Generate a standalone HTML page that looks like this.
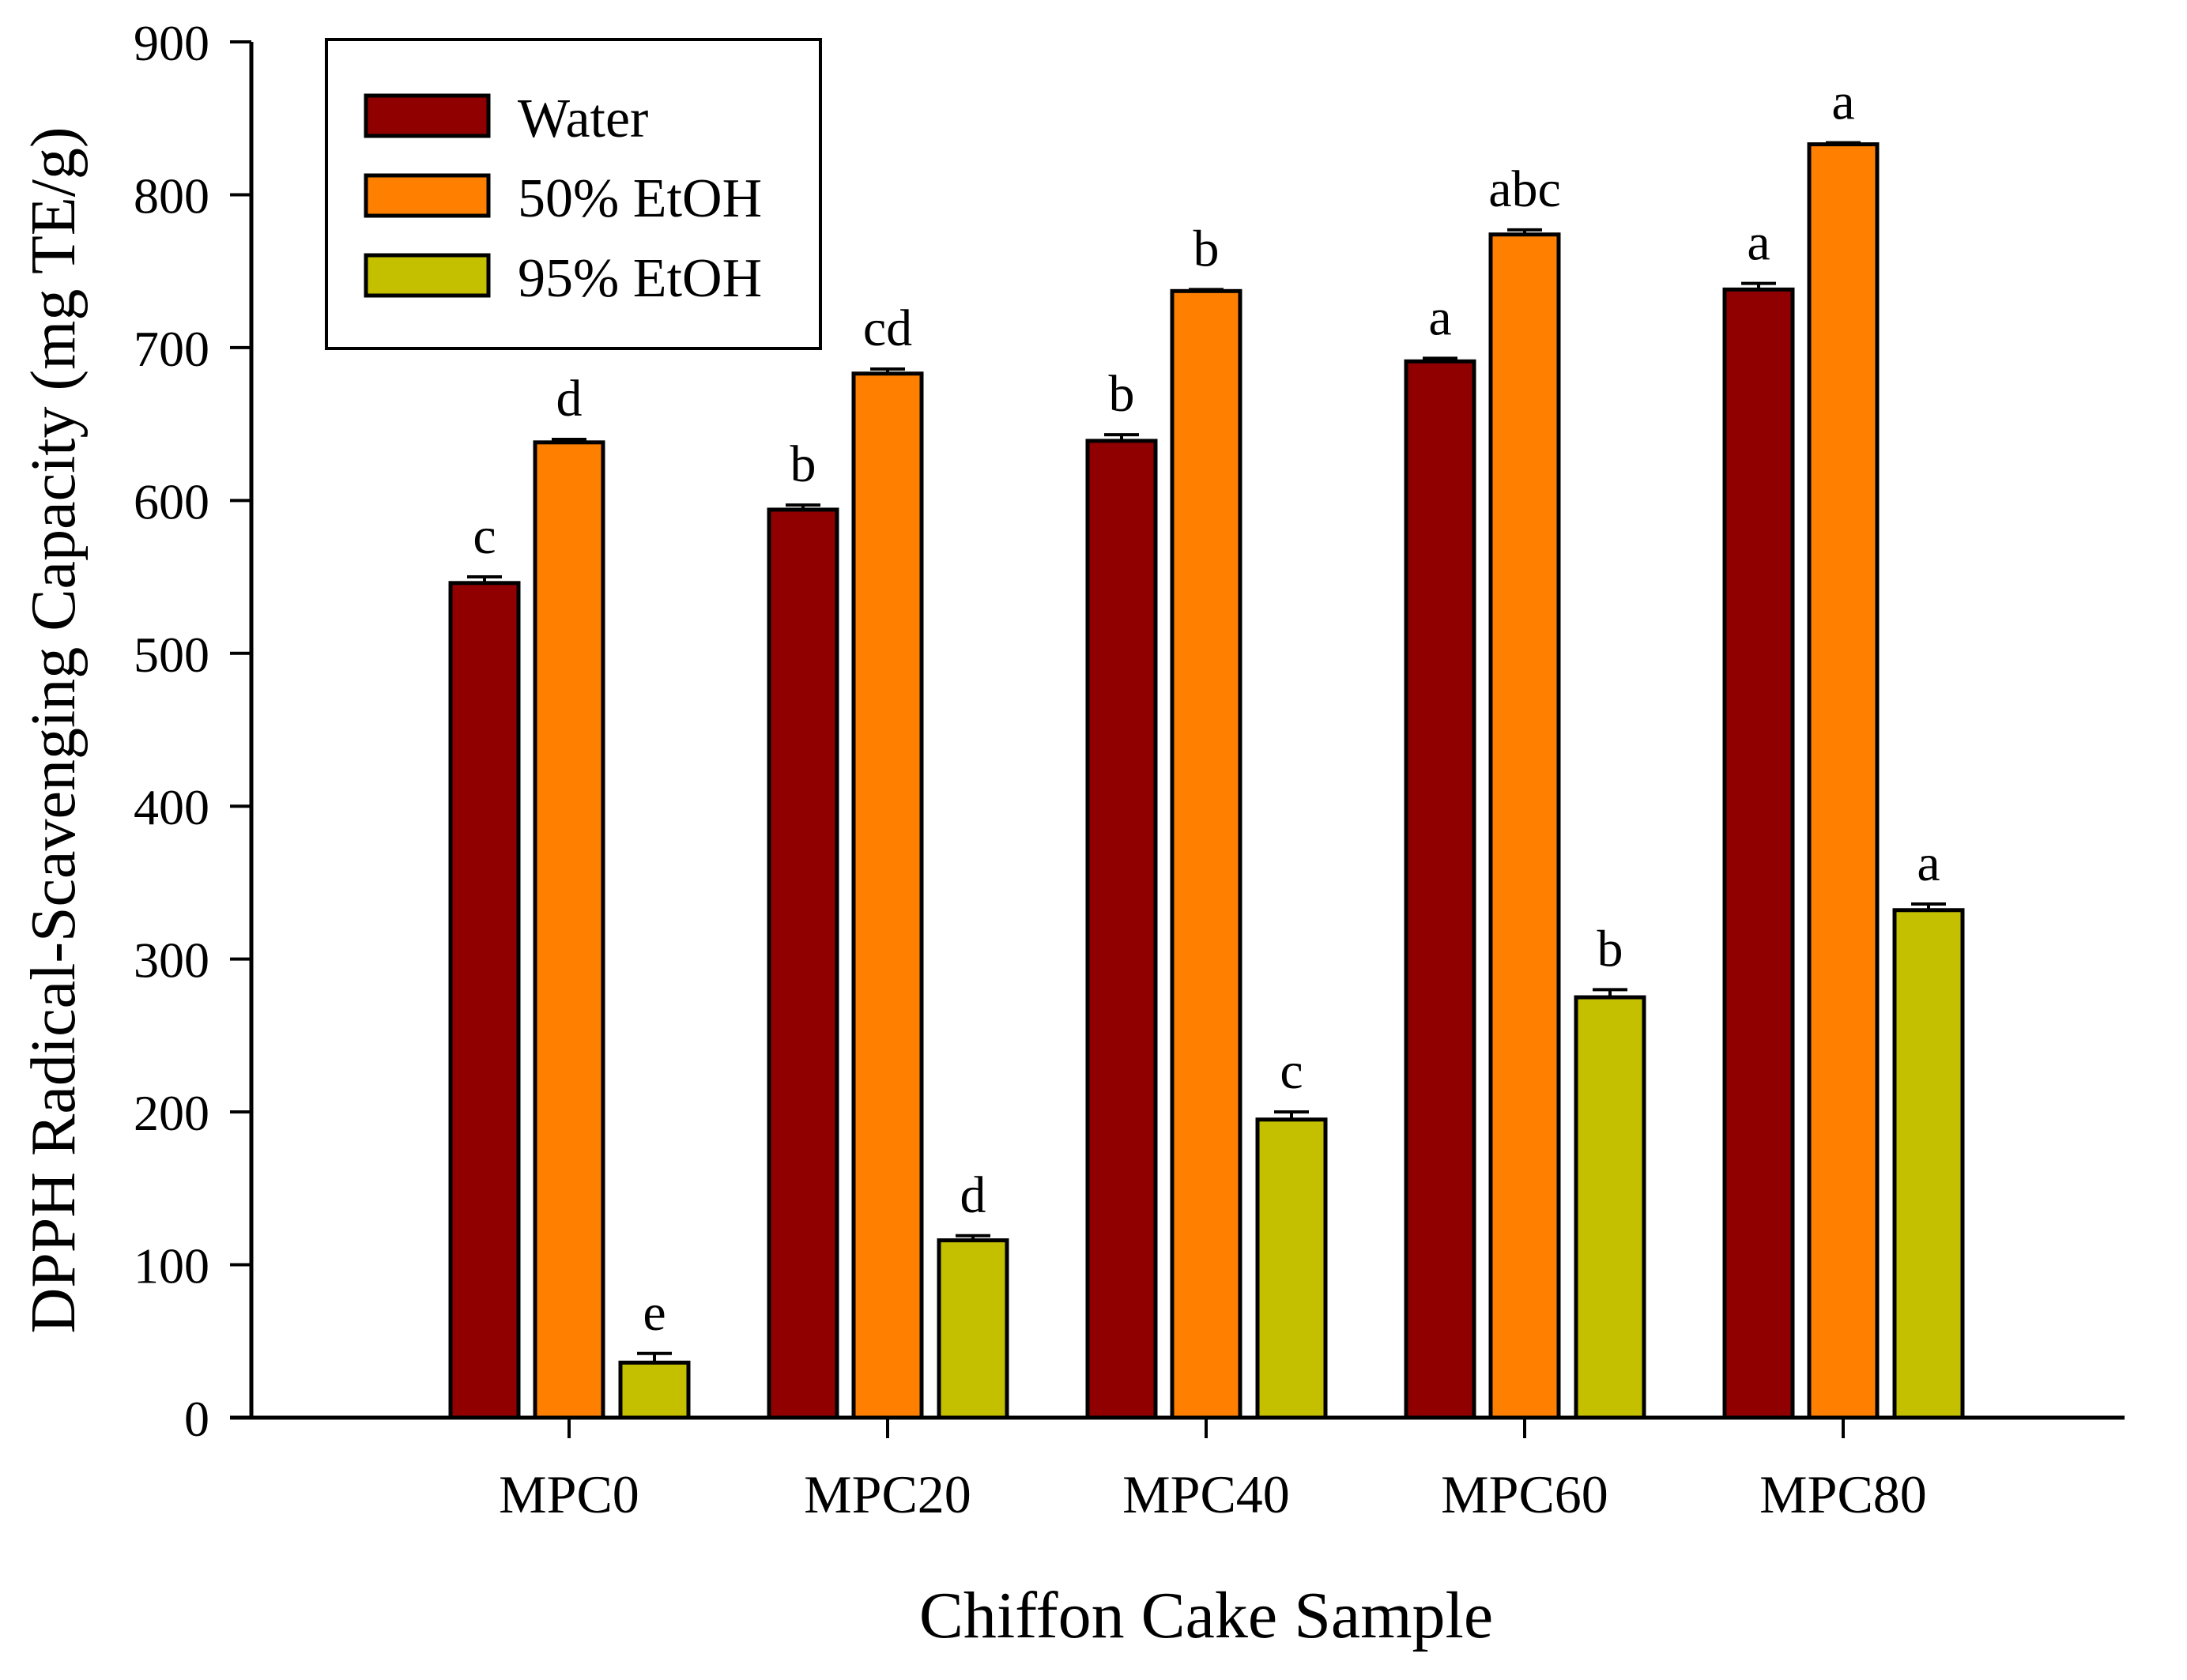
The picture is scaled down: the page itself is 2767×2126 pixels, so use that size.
<!DOCTYPE html>
<html><head><meta charset="utf-8"><style>
html,body{margin:0;padding:0;background:#fff;}
svg{display:block;font-family:"Liberation Serif",serif;}
</style></head><body>
<svg id="chart" width="2767" height="2126" viewBox="0 0 2767 2126" xmlns="http://www.w3.org/2000/svg">
<rect width="2767" height="2126" fill="#fff"/>
<g id="axes"></g>
<g id="bars"></g>
<text x="1526" y="2072" font-size="84" text-anchor="middle">Chiffon Cake Sample</text>
<text transform="translate(94,924) rotate(-90)" font-size="80" text-anchor="middle">DPPH Radical-Scavenging Capacity (mg TE/g)</text>
<g>
<rect x="413" y="50" width="625" height="391" fill="#fff" stroke="#000" stroke-width="4"/>
<g><rect x="463" y="121" width="155" height="51" fill="#910000" stroke="#000" stroke-width="5"/><text x="655" y="173" font-size="70">Water</text></g>
<g><rect x="463" y="222" width="155" height="51" fill="#ff8000" stroke="#000" stroke-width="5"/><text x="655" y="274" font-size="70">50% EtOH</text></g>
<g><rect x="463" y="323" width="155" height="51" fill="#c4c000" stroke="#000" stroke-width="5"/><text x="655" y="375" font-size="70">95% EtOH</text></g>
</g>
</svg>
<script>
const categories = ["MPC0","MPC20","MPC40","MPC60","MPC80"];
const seriesNames = ["Water","50% EtOH","95% EtOH"];
const waterValues = [546,594,639,691,738];
const etoh50Values = [638,683,737,774,833];
const etoh95Values = [36,116,195,275,332];
const waterErrors = [4,3,4,2,4];
const etoh50Errors = [2,3,1,3,1];
const etoh95Errors = [6,3,5,5,4];
const waterLetters = ["c","b","b","a","a"];
const etoh50Letters = ["d","cd","b","abc","a"];
const etoh95Letters = ["e","d","c","b","a"];
const yTicks = [0,100,200,300,400,500,600,700,800,900];

const NS = "http://www.w3.org/2000/svg";
const X0 = 318, XEND = 2688, Y0 = 1794, YTOP = 53, YMAX = 900;
function yScale(v){ return Y0 - (v / YMAX) * (Y0 - YTOP); }
function xCenter(i){ return 720 + i * 403; }
function mk(tag, attrs, parent){ const e = document.createElementNS(NS, tag); for (const k in attrs) e.setAttribute(k, attrs[k]); parent.appendChild(e); return e; }

const axes = document.getElementById("axes");
const yAxis = mk("line", {x1:X0, y1:YTOP, x2:X0, y2:Y0, stroke:"#000", "stroke-width":5}, axes);


const xAxis = mk("line", {x1:291, y1:Y0, x2:XEND, y2:Y0, stroke:"#000", "stroke-width":5}, axes);


yTicks.forEach(t => {
  const y = yScale(t);
  const tk = mk("line", {x1:291, y1:y, x2:X0, y2:y, stroke:"#000", "stroke-width":4}, axes);
  
  
  const lb = mk("text", {x:265, y:y + 23, "font-size":64, "text-anchor":"end"}, axes);
  lb.textContent = t;
  
  
});
categories.forEach((c, i) => {
  const x = xCenter(i);
  const tk = mk("line", {x1:x, y1:Y0, x2:x, y2:Y0 + 26, stroke:"#000", "stroke-width":4}, axes);
  
  
  const lb = mk("text", {x:x, y:1914, "font-size":68, "text-anchor":"middle"}, axes);
  lb.textContent = c;
  
  
});

const bars = document.getElementById("bars");
const series = [
  {vals:waterValues, errs:waterErrors, letters:waterLetters, color:"#910000", off:-107, key:"water"},
  {vals:etoh50Values, errs:etoh50Errors, letters:etoh50Letters, color:"#ff8000", off:0, key:"50-etoh"},
  {vals:etoh95Values, errs:etoh95Errors, letters:etoh95Letters, color:"#c4c000", off:108, key:"95-etoh"}
];
const BW = 86;
series.forEach(s => {
  s.vals.forEach((v, i) => {
    const cx = xCenter(i) + s.off;
    const yt = yScale(v);
    const r = mk("rect", {x:cx - BW/2, y:yt, width:BW, height:Y0 - yt, fill:s.color, stroke:"#000", "stroke-width":5}, bars);
    
    
    const ye = yScale(v + s.errs[i]);
    const ev = mk("line", {x1:cx, y1:yt, x2:cx, y2:ye, stroke:"#000", "stroke-width":4}, bars);
    
    
    const ec = mk("line", {x1:cx - 22, y1:ye, x2:cx + 22, y2:ye, stroke:"#000", "stroke-width":4}, bars);
    
    
    const lt = mk("text", {x:cx, y:ye - 30, "font-size":66, "text-anchor":"middle"}, bars);
    lt.textContent = s.letters[i];
    
    
  });
});
</script>
</body></html>
